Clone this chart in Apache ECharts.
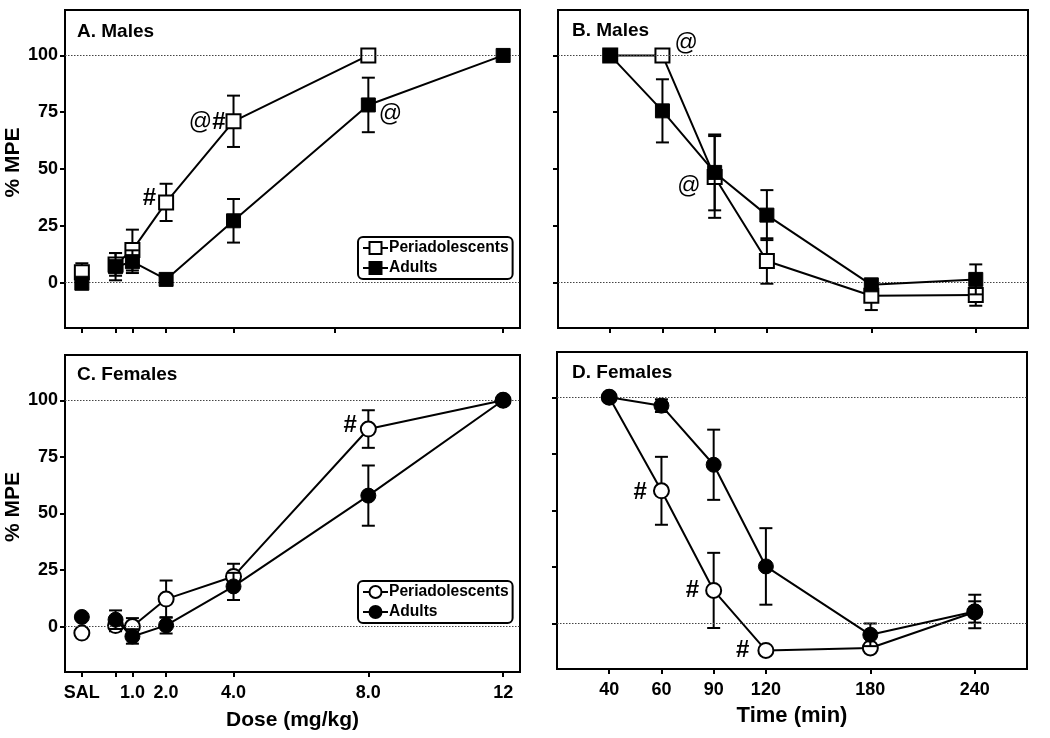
<!DOCTYPE html>
<html>
<head>
<meta charset="utf-8">
<script src="https://cdn.jsdelivr.net/npm/echarts@6/dist/echarts.min.js"></script>
<style>
html,body{margin:0;padding:0;background:#fff;}
#chart{width:1050px;height:738px;}
</style>
</head>
<body>
<div id="chart"></div>
<script>
// ---------- data ----------
const doseX = [-0.5, 0.5, 1, 2, 4, 8, 12];          // SAL plotted at -0.5
const doseTickValues = [-0.5, 0.5, 1, 2, 4, 8, 12];
const doseTickLabels = ['SAL', '', '1.0', '2.0', '4.0', '8.0', '12'];
const doseTickValuesA = [-0.5, 0.5, 1, 2, 4, 7, 12];

const timeX = [1, 2, 3, 4, 6, 8];                     // axis slots
const timeTickLabels = ['40', '60', '90', '120', '180', '240'];

const yTickValues = [0, 25, 50, 75, 100];

// A. Males (dose)
const malesDosePeri      = [4.5, 8, 14.3, 35.3, 71, 100, null];
const malesDosePeriErr   = [4, 5, 9, 8.2, 11.3, 0, null];
const malesDoseAdult     = [-0.3, 7, 9.2, 1.4, 27.2, 78.2, 100];
const malesDoseAdultErr  = [2, 6, 5, 1, 9.6, 12, 0];

// B. Males (time)
const malesTimePeri      = [100, 100, 46.5, 9.5, -5.8, -5.5];
const malesTimePeriErr   = [0, 0, 18, 10, 6.3, 4.7];
const malesTimeAdult     = [100, 75.6, 48.5, 29.7, -1, 1.4];
const malesTimeAdultErr  = [0, 13.9, 16.7, 11, 2, 6.6];

// C. Females (dose)
const femalesDosePeri     = [-2.8, 0.5, 0.1, 12.2, 22.2, 87.3, 100];
const femalesDosePeriErr  = [0, 2.5, 3.7, 8.2, 5.6, 8.3, 0];
const femalesDoseAdult    = [4.3, 3.1, -4.3, 0.6, 17.8, 57.9, 100];
const femalesDoseAdultErr = [0, 4.1, 3.2, 3.6, 6, 13.3, 0];

// D. Females (time)
const femalesTimePeri     = [100, 58.7, 14.7, -11.8, -10.7, 5.2];
const femalesTimePeriErr  = [0, 15, 16.6, 0, 1, 4.7];
const femalesTimeAdult    = [100, 96.3, 70.2, 25.3, -4.9, 5.4];
const femalesTimeAdultErr = [0, 2.8, 15.5, 16.9, 5, 7.4];

// annotations: [panel, group, point index, text]
const annotations = [
  ['A', 'peri', 3, '#'], ['A', 'peri', 4, '@#'], ['A', 'adult', 5, '@'],
  ['B', 'peri', 1, '@'], ['B', 'peri', 2, '@'],
  ['C', 'peri', 5, '#'],
  ['D', 'peri', 1, '#'], ['D', 'peri', 2, '#'], ['D', 'peri', 3, '#']
];

// ---------- styling ----------
const FONT = '"Liberation Sans", Arial, Helvetica, sans-serif';
const annotStyle = {
  A_peri_3: {position: 'left', distance: 2, offset: [0, -4]},
  A_peri_4: {position: 'left', distance: 0, offset: [0, 1]},
  A_adult_5: {position: 'right', distance: 3, offset: [0, 10]},
  B_peri_1: {position: 'right', distance: 2, offset: [2, -12]},
  B_peri_2: {position: 'left', distance: 2, offset: [-4, 10]},
  C_peri_5: {position: 'left', distance: 3, offset: [0, -4]},
  D_peri_1: {position: 'left', distance: 6, offset: [0, 2]},
  D_peri_2: {position: 'left', distance: 6, offset: [0, 0]},
  D_peri_3: {position: 'left', distance: 8, offset: [0, 0]}
};
const rich = {
  at: {fontSize: 23, fontWeight: 'normal', color: '#000', fontFamily: FONT},
  hs: {fontSize: 24, fontWeight: 'bold', color: '#000', fontFamily: FONT}
};
function annotFormatter(t) {
  return t.split('').map(c => c === '@' ? '{at|@}' : '{hs|#}').join('');
}

function errorBarSeries(gi, xs, ys, es, z) {
  const data = [];
  xs.forEach((x, i) => { if (ys[i] != null) data.push([x, ys[i], es[i] || 0]); });
  return {
    type: 'custom', xAxisIndex: gi, yAxisIndex: gi, z: z, silent: true,
    data: data, encode: {x: 0, y: 1},
    renderItem: function (params, api) {
      const x = api.value(0), y = api.value(1), e = api.value(2);
      if (!e) return null;
      const t = api.coord([x, y + e]);
      const b = api.coord([x, y - e]);
      const hw = 6.5;
      const st = {stroke: '#000', lineWidth: 2};
      return {
        type: 'group',
        children: [
          {type: 'line', shape: {x1: t[0], y1: t[1], x2: b[0], y2: b[1]}, style: st},
          {type: 'line', shape: {x1: t[0] - hw, y1: t[1], x2: t[0] + hw, y2: t[1]}, style: st},
          {type: 'line', shape: {x1: b[0] - hw, y1: b[1], x2: b[0] + hw, y2: b[1]}, style: st}
        ]
      };
    }
  };
}

function groupSeries(panel, group, gi, xs, ys, es, name, symbol, isDose, z, withMark) {
  const open = group === 'peri';
  const itemStyle = open ? {color: '#fff', borderColor: '#000', borderWidth: 2, opacity: 1}
                         : {color: '#000', borderColor: '#000', borderWidth: 1, opacity: 1};
  const size = symbol === 'rect' ? 14 : 15;
  const pts = [];
  const salPts = [];
  xs.forEach((x, i) => {
    if (ys[i] == null) return;
    const item = {value: [x, ys[i]]};
    const ann = annotations.find(a => a[0] === panel && a[1] === group && a[2] === i);
    if (ann) {
      const s = annotStyle[panel + '_' + group + '_' + i];
      item.label = Object.assign({show: true, formatter: annotFormatter(ann[3]), rich: rich}, s);
    }
    if (isDose && i === 0) salPts.push(item); else pts.push(item);
  });
  const out = [errorBarSeries(gi, xs, ys, es, z - 1)];
  const line = {
    type: 'line', name: name, xAxisIndex: gi, yAxisIndex: gi, z: z,
    data: pts, symbol: symbol, symbolSize: size, showSymbol: true,
    lineStyle: {color: '#000', width: 2}, itemStyle: itemStyle,
    emphasis: {disabled: true}, silent: true
  };
  if (withMark) {
    line.markLine = {
      silent: true, symbol: ['none', 'none'], label: {show: false},
      lineStyle: {type: [1.5, 1.5], color: '#444', width: 1},
      data: [{yAxis: 0}, {yAxis: 100}]
    };
  }
  out.push(line);
  if (salPts.length) {
    out.push({
      type: 'scatter', xAxisIndex: gi, yAxisIndex: gi, z: z,
      data: salPts, symbol: symbol, symbolSize: size, itemStyle: itemStyle,
      emphasis: {disabled: true}, silent: true
    });
  }
  return out;
}

const grids = [
  {left: 65, top: 10, width: 455, height: 318},
  {left: 558, top: 10, width: 470, height: 318},
  {left: 65, top: 355, width: 455, height: 317},
  {left: 557, top: 352, width: 470, height: 317}
].map(g => Object.assign(g, {show: true, borderColor: '#000', borderWidth: 2, backgroundColor: 'transparent'}));

const tickStyle = {show: true, length: 5, lineStyle: {color: '#000', width: 2}};
const labelStyle = {color: '#000', fontSize: 18, fontWeight: 'bold', fontFamily: FONT};
const axisNameStyle = {color: '#000', fontSize: 21, fontWeight: 'bold', fontFamily: FONT};

function xAxisDose(gi, ticks, showLabels) {
  return {
    type: 'value', gridIndex: gi, min: -1, max: 12.5,
    axisLine: {show: false, onZero: false}, splitLine: {show: false},
    axisTick: Object.assign({customValues: ticks}, tickStyle),
    axisLabel: Object.assign({
      show: showLabels, customValues: doseTickValues, margin: 12,
      formatter: v => doseTickLabels[doseTickValues.indexOf(v)] || ''
    }, labelStyle),
    name: showLabels ? 'Dose (mg/kg)' : '', nameLocation: 'middle', nameGap: 38,
    nameTextStyle: axisNameStyle
  };
}
function xAxisTime(gi, showLabels) {
  return {
    type: 'value', gridIndex: gi, min: 0, max: 9,
    axisLine: {show: false, onZero: false}, splitLine: {show: false},
    axisTick: Object.assign({customValues: timeX}, tickStyle),
    axisLabel: Object.assign({
      show: showLabels, customValues: timeX, margin: 12,
      formatter: v => timeTickLabels[timeX.indexOf(v)] || ''
    }, labelStyle),
    name: showLabels ? 'Time (min)' : '', nameLocation: 'middle', nameGap: 36,
    nameTextStyle: Object.assign({}, axisNameStyle, {fontSize: 22})
  };
}
function yAxis(gi, showLabels) {
  return {
    type: 'value', gridIndex: gi, min: -20, max: 120,
    axisLine: {show: false, onZero: false}, splitLine: {show: false},
    axisTick: Object.assign({customValues: yTickValues}, tickStyle),
    axisLabel: Object.assign({show: showLabels, customValues: yTickValues, margin: 7}, labelStyle),
    name: showLabels ? '% MPE' : '', nameLocation: 'middle', nameGap: 40,
    nameTextStyle: Object.assign({}, axisNameStyle, {padding: [0, 0, 0, 13]})
  };
}

const series = [].concat(
  groupSeries('A', 'peri', 0, doseX, malesDosePeri, malesDosePeriErr, 'Periadolescents', 'rect', true, 3, true),
  groupSeries('A', 'adult', 0, doseX, malesDoseAdult, malesDoseAdultErr, 'Adults', 'rect', true, 5, false),
  groupSeries('B', 'peri', 1, timeX, malesTimePeri, malesTimePeriErr, 'Periadolescents B', 'rect', false, 3, true),
  groupSeries('B', 'adult', 1, timeX, malesTimeAdult, malesTimeAdultErr, 'Adults B', 'rect', false, 5, false),
  groupSeries('C', 'peri', 2, doseX, femalesDosePeri, femalesDosePeriErr, 'Periadolescents C', 'circle', true, 3, true),
  groupSeries('C', 'adult', 2, doseX, femalesDoseAdult, femalesDoseAdultErr, 'Adults C', 'circle', true, 5, false),
  groupSeries('D', 'peri', 3, timeX, femalesTimePeri, femalesTimePeriErr, 'Periadolescents D', 'circle', false, 3, true),
  groupSeries('D', 'adult', 3, timeX, femalesTimeAdult, femalesTimeAdultErr, 'Adults D', 'circle', false, 5, false)
);

const legendBase = {
  orient: 'vertical', left: 358, padding: [3, 4, 3, 4], itemGap: 4,
  itemWidth: 25, itemHeight: 15, borderColor: '#000', borderWidth: 2, borderRadius: 5,
  selectedMode: false, backgroundColor: '#fff',
  textStyle: {color: '#000', fontSize: 15.6, fontWeight: 'bold', fontFamily: FONT, padding: [0, 0, 0, -4]},
  formatter: n => n.replace(/ [A-D]$/, '')
};

const titleStyle = {color: '#000', fontSize: 19, fontWeight: 'bold', fontFamily: FONT};
const option = {
  animation: false,
  backgroundColor: '#fff',
  title: [
    {text: 'A. Males', left: 77, top: 22, padding: 0, textStyle: titleStyle},
    {text: 'B. Males', left: 572, top: 21, padding: 0, textStyle: titleStyle},
    {text: 'C. Females', left: 77, top: 365, padding: 0, textStyle: titleStyle},
    {text: 'D. Females', left: 572, top: 363, padding: 0, textStyle: titleStyle}
  ],
  legend: [
    Object.assign({top: 237, data: ['Periadolescents', 'Adults']}, legendBase),
    Object.assign({top: 581, data: ['Periadolescents C', 'Adults C']}, legendBase)
  ],
  grid: grids,
  xAxis: [xAxisDose(0, doseTickValuesA, false), xAxisTime(1, false), xAxisDose(2, doseTickValues, true), xAxisTime(3, true)],
  yAxis: [yAxis(0, true), yAxis(1, false), yAxis(2, true), yAxis(3, false)],
  series: series
};

const chart = echarts.init(document.getElementById('chart'), null, {renderer: 'canvas'});
chart.setOption(option);
</script>
</body>
</html>
